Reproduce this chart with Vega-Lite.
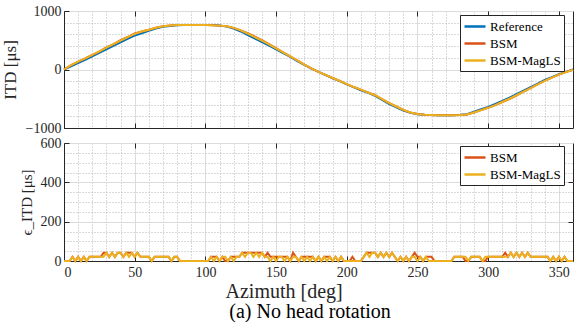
{
"$schema": "https://vega.github.io/schema/vega-lite/v6.json",
"padding": {"left": 0, "top": 3, "right": 0, "bottom": 0},
"background": "white",
"title": {"text": "(a) No head rotation", "orient": "bottom", "anchor": "middle", "frame": "bounds", "dx": 21, "font": "Liberation Serif", "fontSize": 20, "fontWeight": "normal", "color": "#000000", "offset": 0},
"config": {
  "font": "Liberation Serif",
  "view": {"stroke": "#262626", "strokeWidth": 1},
  "axis": {"labelFont": "Liberation Serif", "titleFont": "Liberation Serif", "labelFontSize": 14, "titleFontSize": 17, "titleFontWeight": "normal", "labelColor": "#262626", "titleColor": "#262626", "domainColor": "#262626", "tickColor": "#262626", "gridColor": "#dcdcdc", "gridWidth": 1},
  "legend": {"fillColor": "white", "strokeColor": "#262626", "padding": 3, "labelFont": "Liberation Serif", "labelFontSize": 13, "labelColor": "#000000", "symbolType": "M-1,0H2", "symbolStrokeWidth": 2.5, "symbolSize": 196, "rowPadding": 1, "labelOffset": 10}
},
"spacing": 15,
"bounds": "flush",
"resolve": {"scale": {"color": "independent"}},
"vconcat": [
{
  "width": 509, "height": 117,
  "data": {"values": [
{"az":0,"Reference":0,"BSM":0,"BSM-MagLS":0},
{"az":5,"Reference":55,"BSM":75,"BSM-MagLS":75},
{"az":10,"Reference":110,"BSM":135,"BSM-MagLS":135},
{"az":15,"Reference":165,"BSM":190,"BSM-MagLS":190},
{"az":20,"Reference":225,"BSM":250,"BSM-MagLS":250},
{"az":25,"Reference":285,"BSM":305,"BSM-MagLS":310},
{"az":30,"Reference":345,"BSM":380,"BSM-MagLS":375},
{"az":35,"Reference":405,"BSM":435,"BSM-MagLS":435},
{"az":40,"Reference":465,"BSM":500,"BSM-MagLS":495},
{"az":45,"Reference":525,"BSM":555,"BSM-MagLS":555},
{"az":50,"Reference":580,"BSM":615,"BSM-MagLS":610},
{"az":55,"Reference":620,"BSM":650,"BSM-MagLS":650},
{"az":60,"Reference":660,"BSM":680,"BSM-MagLS":680},
{"az":65,"Reference":700,"BSM":715,"BSM-MagLS":715},
{"az":70,"Reference":730,"BSM":740,"BSM-MagLS":740},
{"az":75,"Reference":745,"BSM":752,"BSM-MagLS":752},
{"az":80,"Reference":755,"BSM":760,"BSM-MagLS":760},
{"az":85,"Reference":760,"BSM":762,"BSM-MagLS":762},
{"az":90,"Reference":762,"BSM":762,"BSM-MagLS":762},
{"az":95,"Reference":762,"BSM":762,"BSM-MagLS":762},
{"az":100,"Reference":762,"BSM":762,"BSM-MagLS":762},
{"az":105,"Reference":760,"BSM":758,"BSM-MagLS":758},
{"az":110,"Reference":752,"BSM":750,"BSM-MagLS":750},
{"az":115,"Reference":735,"BSM":740,"BSM-MagLS":740},
{"az":120,"Reference":700,"BSM":712,"BSM-MagLS":712},
{"az":125,"Reference":650,"BSM":668,"BSM-MagLS":668},
{"az":130,"Reference":590,"BSM":620,"BSM-MagLS":612},
{"az":135,"Reference":530,"BSM":560,"BSM-MagLS":555},
{"az":140,"Reference":470,"BSM":500,"BSM-MagLS":492},
{"az":145,"Reference":410,"BSM":435,"BSM-MagLS":430},
{"az":150,"Reference":345,"BSM":365,"BSM-MagLS":360},
{"az":155,"Reference":280,"BSM":295,"BSM-MagLS":292},
{"az":160,"Reference":215,"BSM":225,"BSM-MagLS":225},
{"az":165,"Reference":145,"BSM":155,"BSM-MagLS":155},
{"az":170,"Reference":80,"BSM":85,"BSM-MagLS":85},
{"az":175,"Reference":15,"BSM":18,"BSM-MagLS":18},
{"az":180,"Reference":-40,"BSM":-40,"BSM-MagLS":-40},
{"az":185,"Reference":-95,"BSM":-92,"BSM-MagLS":-92},
{"az":190,"Reference":-150,"BSM":-145,"BSM-MagLS":-145},
{"az":195,"Reference":-200,"BSM":-195,"BSM-MagLS":-195},
{"az":200,"Reference":-255,"BSM":-250,"BSM-MagLS":-250},
{"az":205,"Reference":-305,"BSM":-300,"BSM-MagLS":-300},
{"az":210,"Reference":-355,"BSM":-345,"BSM-MagLS":-345},
{"az":215,"Reference":-400,"BSM":-390,"BSM-MagLS":-395},
{"az":220,"Reference":-450,"BSM":-440,"BSM-MagLS":-440},
{"az":225,"Reference":-520,"BSM":-505,"BSM-MagLS":-505},
{"az":230,"Reference":-590,"BSM":-575,"BSM-MagLS":-575},
{"az":235,"Reference":-645,"BSM":-632,"BSM-MagLS":-632},
{"az":240,"Reference":-700,"BSM":-690,"BSM-MagLS":-690},
{"az":245,"Reference":-740,"BSM":-735,"BSM-MagLS":-735},
{"az":250,"Reference":-765,"BSM":-762,"BSM-MagLS":-762},
{"az":255,"Reference":-775,"BSM":-775,"BSM-MagLS":-775},
{"az":260,"Reference":-778,"BSM":-778,"BSM-MagLS":-778},
{"az":265,"Reference":-780,"BSM":-780,"BSM-MagLS":-780},
{"az":270,"Reference":-780,"BSM":-780,"BSM-MagLS":-780},
{"az":275,"Reference":-780,"BSM":-780,"BSM-MagLS":-780},
{"az":280,"Reference":-775,"BSM":-778,"BSM-MagLS":-778},
{"az":285,"Reference":-765,"BSM":-770,"BSM-MagLS":-770},
{"az":290,"Reference":-722,"BSM":-735,"BSM-MagLS":-735},
{"az":295,"Reference":-680,"BSM":-695,"BSM-MagLS":-695},
{"az":300,"Reference":-640,"BSM":-655,"BSM-MagLS":-655},
{"az":305,"Reference":-590,"BSM":-608,"BSM-MagLS":-608},
{"az":310,"Reference":-535,"BSM":-555,"BSM-MagLS":-555},
{"az":315,"Reference":-480,"BSM":-505,"BSM-MagLS":-500},
{"az":320,"Reference":-420,"BSM":-445,"BSM-MagLS":-440},
{"az":325,"Reference":-360,"BSM":-380,"BSM-MagLS":-380},
{"az":330,"Reference":-300,"BSM":-318,"BSM-MagLS":-318},
{"az":335,"Reference":-240,"BSM":-255,"BSM-MagLS":-255},
{"az":340,"Reference":-180,"BSM":-195,"BSM-MagLS":-195},
{"az":345,"Reference":-130,"BSM":-140,"BSM-MagLS":-140},
{"az":350,"Reference":-80,"BSM":-88,"BSM-MagLS":-88},
{"az":355,"Reference":-40,"BSM":-45,"BSM-MagLS":-45},
{"az":360,"Reference":0,"BSM":-5,"BSM-MagLS":-5}
  ]},
  "transform": [{"fold": ["Reference", "BSM", "BSM-MagLS"], "as": ["series", "itd"]}],
  "layer": [
    {
      "mark": {"type": "line", "opacity": 0},
      "encoding": {
        "x": {"field": "az", "type": "quantitative", "scale": {"domain": [0, 360], "nice": false},
              "axis": {"orient": "bottom", "values": [10,20,30,40,60,70,80,90,110,120,130,140,160,170,180,190,210,220,230,240,260,270,280,290,310,320,330,340], "grid": true, "gridDash": [1, 2], "gridColor": "#b4b4b4", "labels": false, "ticks": false, "domain": false, "title": null}},
        "y": {"field": "itd", "type": "quantitative", "scale": {"domain": [-1000, 1000], "nice": false},
              "axis": {"orient": "left", "values": [-800,-600,-400,-200,200,400,600,800], "grid": true, "gridDash": [1, 2], "gridColor": "#b4b4b4", "labels": false, "ticks": false, "domain": false, "title": null}}
      }
    },
    {
      "mark": {"type": "line", "opacity": 0},
      "encoding": {
        "x": {"field": "az", "type": "quantitative", "scale": {"domain": [0, 360], "nice": false},
              "axis": {"orient": "top", "values": [50,100,150,200,250,300,350], "grid": false, "labels": false, "tickSize": -5, "domain": false, "title": null}},
        "y": {"field": "itd", "type": "quantitative", "scale": {"domain": [-1000, 1000], "nice": false},
              "axis": {"orient": "right", "values": [0], "grid": false, "labels": false, "tickSize": -5, "domain": false, "title": null}}
      }
    },
    {
      "mark": {"type": "line", "strokeWidth": 2},
      "encoding": {
        "x": {"field": "az", "type": "quantitative", "scale": {"domain": [0, 360], "nice": false},
              "axis": {"orient": "bottom", "values": [0,50,100,150,200,250,300,350], "grid": true, "labels": false, "tickSize": -5, "title": null}},
        "y": {"field": "itd", "type": "quantitative", "scale": {"domain": [-1000, 1000], "nice": false},
              "axis": {"orient": "left", "values": [-1000, 0, 1000], "format": "d", "grid": true, "tickSize": -5, "labelPadding": 8, "labelFont": "Liberation Serif", "labelFontSize": 14, "title": "ITD [μs]", "titleFont": "Liberation Serif", "titleFontSize": 17, "titleFontWeight": "normal", "titlePadding": 6}},
        "color": {"field": "series", "type": "nominal",
                  "scale": {"domain": ["Reference", "BSM", "BSM-MagLS"], "range": ["#0072BD", "#D95319", "#EDB120"]},
                  "legend": {"title": null, "orient": "none", "legendX": 396, "legendY": 4, "labelFont": "Liberation Serif", "labelFontSize": 13, "symbolType": "M-1,0H2", "symbolSize": 196, "symbolStrokeWidth": 2.5, "labelOffset": 10, "padding": 3, "rowPadding": 1, "fillColor": "white", "strokeColor": "#262626"}}
      }
    }
  ],
  "resolve": {"axis": {"x": "independent", "y": "independent"}}
},
{
  "width": 509, "height": 118,
  "data": {"values": [
{"az":0,"BSM":0,"BSM-MagLS":0},{"az":2,"BSM":0,"BSM-MagLS":0},{"az":4,"BSM":0,"BSM-MagLS":0},
{"az":6,"BSM":21,"BSM-MagLS":21},{"az":8,"BSM":0,"BSM-MagLS":0},{"az":10,"BSM":21,"BSM-MagLS":21},
{"az":12,"BSM":0,"BSM-MagLS":0},{"az":14,"BSM":21,"BSM-MagLS":21},{"az":16,"BSM":0,"BSM-MagLS":0},
{"az":18,"BSM":21,"BSM-MagLS":21},{"az":20,"BSM":21,"BSM-MagLS":21},{"az":22,"BSM":21,"BSM-MagLS":21},
{"az":24,"BSM":21,"BSM-MagLS":21},{"az":26,"BSM":21,"BSM-MagLS":21},{"az":28,"BSM":42,"BSM-MagLS":21},
{"az":30,"BSM":42,"BSM-MagLS":42},{"az":32,"BSM":21,"BSM-MagLS":21},{"az":34,"BSM":42,"BSM-MagLS":42},
{"az":36,"BSM":21,"BSM-MagLS":21},{"az":38,"BSM":42,"BSM-MagLS":42},{"az":40,"BSM":42,"BSM-MagLS":42},
{"az":42,"BSM":21,"BSM-MagLS":21},{"az":44,"BSM":42,"BSM-MagLS":42},{"az":46,"BSM":42,"BSM-MagLS":21},
{"az":48,"BSM":42,"BSM-MagLS":42},{"az":50,"BSM":21,"BSM-MagLS":21},{"az":52,"BSM":42,"BSM-MagLS":42},
{"az":54,"BSM":21,"BSM-MagLS":21},{"az":56,"BSM":21,"BSM-MagLS":21},{"az":58,"BSM":21,"BSM-MagLS":21},
{"az":60,"BSM":21,"BSM-MagLS":21},{"az":62,"BSM":0,"BSM-MagLS":0},{"az":64,"BSM":21,"BSM-MagLS":21},
{"az":66,"BSM":21,"BSM-MagLS":21},{"az":68,"BSM":21,"BSM-MagLS":21},{"az":70,"BSM":21,"BSM-MagLS":21},
{"az":72,"BSM":21,"BSM-MagLS":21},{"az":74,"BSM":21,"BSM-MagLS":21},{"az":76,"BSM":0,"BSM-MagLS":0},
{"az":78,"BSM":21,"BSM-MagLS":21},{"az":80,"BSM":21,"BSM-MagLS":21},{"az":82,"BSM":0,"BSM-MagLS":0},
{"az":84,"BSM":0,"BSM-MagLS":0},{"az":86,"BSM":0,"BSM-MagLS":0},{"az":88,"BSM":0,"BSM-MagLS":0},
{"az":90,"BSM":0,"BSM-MagLS":0},{"az":92,"BSM":0,"BSM-MagLS":0},{"az":94,"BSM":0,"BSM-MagLS":0},
{"az":96,"BSM":0,"BSM-MagLS":0},{"az":98,"BSM":0,"BSM-MagLS":0},{"az":100,"BSM":0,"BSM-MagLS":0},
{"az":102,"BSM":0,"BSM-MagLS":0},{"az":104,"BSM":21,"BSM-MagLS":21},{"az":106,"BSM":21,"BSM-MagLS":0},
{"az":108,"BSM":21,"BSM-MagLS":21},{"az":110,"BSM":0,"BSM-MagLS":0},{"az":112,"BSM":21,"BSM-MagLS":21},
{"az":114,"BSM":0,"BSM-MagLS":21},{"az":116,"BSM":0,"BSM-MagLS":0},{"az":118,"BSM":21,"BSM-MagLS":21},
{"az":120,"BSM":21,"BSM-MagLS":0},{"az":122,"BSM":21,"BSM-MagLS":21},{"az":124,"BSM":21,"BSM-MagLS":21},
{"az":126,"BSM":42,"BSM-MagLS":42},{"az":128,"BSM":42,"BSM-MagLS":21},{"az":130,"BSM":42,"BSM-MagLS":42},
{"az":132,"BSM":42,"BSM-MagLS":42},{"az":134,"BSM":42,"BSM-MagLS":21},{"az":136,"BSM":42,"BSM-MagLS":42},
{"az":138,"BSM":42,"BSM-MagLS":21},{"az":140,"BSM":42,"BSM-MagLS":42},{"az":142,"BSM":21,"BSM-MagLS":21},
{"az":144,"BSM":42,"BSM-MagLS":21},{"az":146,"BSM":21,"BSM-MagLS":0},{"az":148,"BSM":21,"BSM-MagLS":21},
{"az":150,"BSM":21,"BSM-MagLS":0},{"az":152,"BSM":21,"BSM-MagLS":21},{"az":154,"BSM":21,"BSM-MagLS":21},
{"az":156,"BSM":21,"BSM-MagLS":0},{"az":158,"BSM":21,"BSM-MagLS":21},{"az":160,"BSM":0,"BSM-MagLS":0},
{"az":162,"BSM":42,"BSM-MagLS":21},{"az":164,"BSM":21,"BSM-MagLS":21},{"az":166,"BSM":0,"BSM-MagLS":0},
{"az":168,"BSM":21,"BSM-MagLS":21},{"az":170,"BSM":21,"BSM-MagLS":0},{"az":172,"BSM":21,"BSM-MagLS":21},
{"az":174,"BSM":21,"BSM-MagLS":0},{"az":176,"BSM":21,"BSM-MagLS":21},{"az":178,"BSM":0,"BSM-MagLS":0},
{"az":180,"BSM":21,"BSM-MagLS":21},{"az":182,"BSM":0,"BSM-MagLS":0},{"az":184,"BSM":21,"BSM-MagLS":21},
{"az":186,"BSM":21,"BSM-MagLS":0},{"az":188,"BSM":21,"BSM-MagLS":21},{"az":190,"BSM":0,"BSM-MagLS":0},
{"az":192,"BSM":21,"BSM-MagLS":21},{"az":194,"BSM":0,"BSM-MagLS":0},{"az":196,"BSM":21,"BSM-MagLS":21},
{"az":198,"BSM":0,"BSM-MagLS":0},{"az":200,"BSM":0,"BSM-MagLS":0},{"az":202,"BSM":0,"BSM-MagLS":0},
{"az":204,"BSM":21,"BSM-MagLS":0},{"az":206,"BSM":0,"BSM-MagLS":0},{"az":208,"BSM":0,"BSM-MagLS":0},
{"az":210,"BSM":0,"BSM-MagLS":0},{"az":212,"BSM":21,"BSM-MagLS":21},{"az":214,"BSM":42,"BSM-MagLS":42},
{"az":216,"BSM":42,"BSM-MagLS":21},{"az":218,"BSM":42,"BSM-MagLS":42},{"az":220,"BSM":42,"BSM-MagLS":42},
{"az":222,"BSM":21,"BSM-MagLS":21},{"az":224,"BSM":42,"BSM-MagLS":42},{"az":226,"BSM":21,"BSM-MagLS":21},
{"az":228,"BSM":42,"BSM-MagLS":42},{"az":230,"BSM":21,"BSM-MagLS":21},{"az":232,"BSM":42,"BSM-MagLS":42},
{"az":234,"BSM":21,"BSM-MagLS":21},{"az":236,"BSM":0,"BSM-MagLS":0},{"az":238,"BSM":21,"BSM-MagLS":21},
{"az":240,"BSM":0,"BSM-MagLS":0},{"az":242,"BSM":21,"BSM-MagLS":21},{"az":244,"BSM":0,"BSM-MagLS":0},
{"az":246,"BSM":21,"BSM-MagLS":21},{"az":248,"BSM":42,"BSM-MagLS":21},{"az":250,"BSM":21,"BSM-MagLS":0},
{"az":252,"BSM":21,"BSM-MagLS":21},{"az":254,"BSM":0,"BSM-MagLS":0},{"az":256,"BSM":21,"BSM-MagLS":21},
{"az":258,"BSM":21,"BSM-MagLS":0},{"az":260,"BSM":21,"BSM-MagLS":0},{"az":262,"BSM":0,"BSM-MagLS":0},
{"az":264,"BSM":0,"BSM-MagLS":0},{"az":266,"BSM":0,"BSM-MagLS":0},{"az":268,"BSM":0,"BSM-MagLS":0},
{"az":270,"BSM":0,"BSM-MagLS":0},{"az":272,"BSM":0,"BSM-MagLS":0},{"az":274,"BSM":0,"BSM-MagLS":0},
{"az":276,"BSM":21,"BSM-MagLS":21},{"az":278,"BSM":21,"BSM-MagLS":21},{"az":280,"BSM":21,"BSM-MagLS":21},
{"az":282,"BSM":21,"BSM-MagLS":21},{"az":284,"BSM":0,"BSM-MagLS":21},{"az":286,"BSM":0,"BSM-MagLS":0},
{"az":288,"BSM":21,"BSM-MagLS":21},{"az":290,"BSM":21,"BSM-MagLS":21},{"az":292,"BSM":21,"BSM-MagLS":21},
{"az":294,"BSM":21,"BSM-MagLS":21},{"az":296,"BSM":0,"BSM-MagLS":0},{"az":298,"BSM":0,"BSM-MagLS":21},
{"az":300,"BSM":21,"BSM-MagLS":21},{"az":302,"BSM":21,"BSM-MagLS":21},{"az":304,"BSM":21,"BSM-MagLS":21},
{"az":306,"BSM":21,"BSM-MagLS":21},{"az":308,"BSM":21,"BSM-MagLS":21},{"az":310,"BSM":21,"BSM-MagLS":21},
{"az":312,"BSM":42,"BSM-MagLS":21},{"az":314,"BSM":21,"BSM-MagLS":21},{"az":316,"BSM":42,"BSM-MagLS":42},
{"az":318,"BSM":21,"BSM-MagLS":21},{"az":320,"BSM":42,"BSM-MagLS":42},{"az":322,"BSM":21,"BSM-MagLS":21},
{"az":324,"BSM":42,"BSM-MagLS":42},{"az":326,"BSM":21,"BSM-MagLS":21},{"az":328,"BSM":42,"BSM-MagLS":42},
{"az":330,"BSM":21,"BSM-MagLS":21},{"az":332,"BSM":21,"BSM-MagLS":21},{"az":334,"BSM":21,"BSM-MagLS":21},
{"az":336,"BSM":21,"BSM-MagLS":21},{"az":338,"BSM":21,"BSM-MagLS":21},{"az":340,"BSM":21,"BSM-MagLS":21},
{"az":342,"BSM":21,"BSM-MagLS":21},{"az":344,"BSM":0,"BSM-MagLS":0},{"az":346,"BSM":21,"BSM-MagLS":21},
{"az":348,"BSM":0,"BSM-MagLS":0},{"az":350,"BSM":21,"BSM-MagLS":21},{"az":352,"BSM":0,"BSM-MagLS":0},
{"az":354,"BSM":21,"BSM-MagLS":21},{"az":356,"BSM":0,"BSM-MagLS":0},{"az":358,"BSM":0,"BSM-MagLS":0},
{"az":360,"BSM":0,"BSM-MagLS":0}
  ]},
  "transform": [{"fold": ["BSM", "BSM-MagLS"], "as": ["series", "err"]}],
  "layer": [
    {
      "mark": {"type": "line", "opacity": 0},
      "encoding": {
        "x": {"field": "az", "type": "quantitative", "scale": {"domain": [0, 360], "nice": false},
              "axis": {"orient": "bottom", "values": [10,20,30,40,60,70,80,90,110,120,130,140,160,170,180,190,210,220,230,240,260,270,280,290,310,320,330,340], "grid": true, "gridDash": [1, 2], "gridColor": "#b4b4b4", "labels": false, "ticks": false, "domain": false, "title": null}},
        "y": {"field": "err", "type": "quantitative", "scale": {"domain": [0, 600], "nice": false},
              "axis": {"orient": "left", "values": [50,100,150,250,300,350,450,500,550], "grid": true, "gridDash": [1, 2], "gridColor": "#b4b4b4", "labels": false, "ticks": false, "domain": false, "title": null}}
      }
    },
    {
      "mark": {"type": "line", "opacity": 0},
      "encoding": {
        "x": {"field": "az", "type": "quantitative", "scale": {"domain": [0, 360], "nice": false},
              "axis": {"orient": "top", "values": [50,100,150,200,250,300,350], "grid": false, "labels": false, "tickSize": -5, "domain": false, "title": null}},
        "y": {"field": "err", "type": "quantitative", "scale": {"domain": [0, 600], "nice": false},
              "axis": {"orient": "right", "values": [200, 400], "grid": false, "labels": false, "tickSize": -5, "domain": false, "title": null}}
      }
    },
    {
      "mark": {"type": "line", "strokeWidth": 2},
      "encoding": {
        "x": {"field": "az", "type": "quantitative", "scale": {"domain": [0, 360], "nice": false},
              "axis": {"orient": "bottom", "values": [0,50,100,150,200,250,300,350], "format": "d", "grid": true, "tickSize": -5, "labelPadding": 9, "labelFont": "Liberation Serif", "labelFontSize": 14, "title": "Azimuth [deg]", "titleFont": "Liberation Serif", "titleFontSize": 20, "titleFontWeight": "normal", "titlePadding": 2, "titleX": 161, "titleAlign": "left"}},
        "y": {"field": "err", "type": "quantitative", "scale": {"domain": [0, 600], "nice": false},
              "axis": {"orient": "left", "values": [0, 200, 400, 600], "format": "d", "grid": true, "tickSize": -5, "labelPadding": 8, "labelFont": "Liberation Serif", "labelFontSize": 14, "title": "ϵ_ITD [μs]", "titleFont": "Liberation Serif", "titleFontSize": 15, "titleFontWeight": "normal", "titlePadding": 6}},
        "color": {"field": "series", "type": "nominal",
                  "scale": {"domain": ["BSM", "BSM-MagLS"], "range": ["#D95319", "#EDB120"]},
                  "legend": {"title": null, "orient": "none", "legendX": 396, "legendY": 3, "labelFont": "Liberation Serif", "labelFontSize": 13, "symbolType": "M-1,0H2", "symbolSize": 196, "symbolStrokeWidth": 2.5, "labelOffset": 10, "padding": 3, "rowPadding": 1, "fillColor": "white", "strokeColor": "#262626"}}
      }
    }
  ],
  "resolve": {"axis": {"x": "independent", "y": "independent"}}
}
]
}
